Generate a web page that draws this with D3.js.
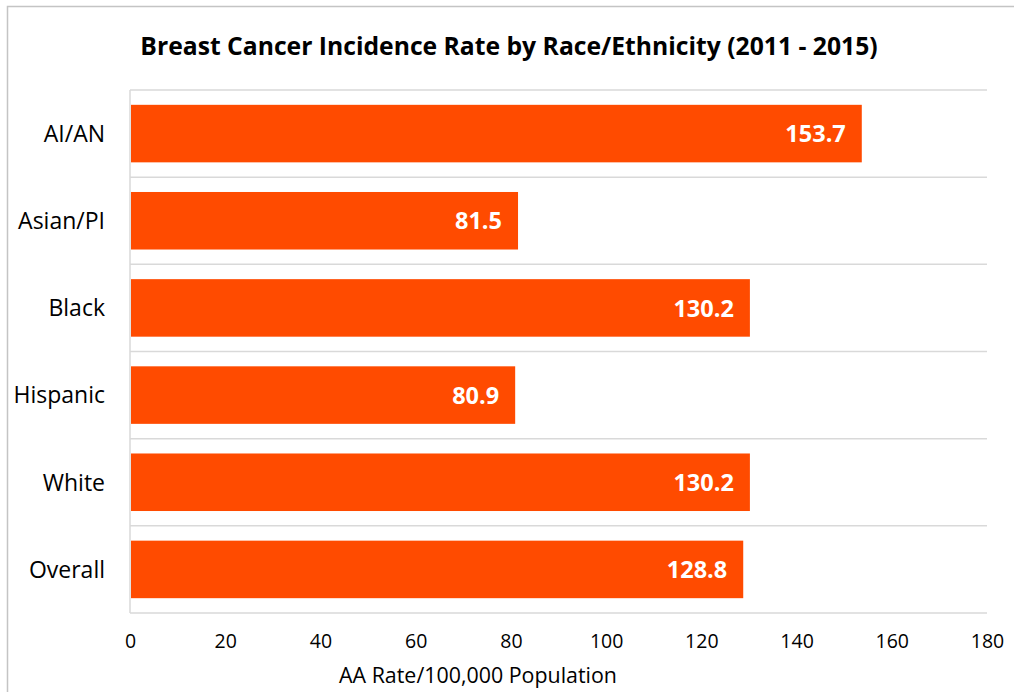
<!DOCTYPE html>
<html>
<head>
<meta charset="utf-8">
<script src="https://cdn.jsdelivr.net/npm/d3@7"></script>
<style>
  body { margin: 0; background: #fff; }
  svg { display: block; font-family: "Open Sans", sans-serif; }
</style>
</head>
<body>
<svg id="chart" width="1014" height="692"></svg>
<script>
// values
const categories = ['AI/AN', 'Asian/PI', 'Black', 'Hispanic', 'White', 'Overall'];
const rates = [153.7, 81.5, 130.2, 80.9, 130.2, 128.8];
const xTicks = [0, 20, 40, 60, 80, 100, 120, 140, 160, 180];

const chartTitle = 'Breast Cancer Incidence Rate by Race/Ethnicity (2011 - 2015)';
const xTitle = 'AA Rate/100,000 Population';

const svg = d3.select('#chart');
const plot = { left: 130, right: 987, top: 90, bottom: 613 };

// outer chart border
svg.append('rect')
    .attr('x', 7.5).attr('y', 6.5)
    .attr('width', 1020).attr('height', 700)
    .attr('fill', 'none').attr('stroke', '#c4c4c4').attr('stroke-width', 1.5);

const x = d3.scaleLinear().domain([0, 180]).range([plot.left, plot.right]);
const y = d3.scaleBand().domain(categories).range([plot.top, plot.bottom]).paddingInner(0.34).paddingOuter(0.17);

// horizontal gridlines at category boundaries
const step = y.step();
const bounds = d3.range(categories.length + 1).map(i => plot.top + i * step);
svg.append('g').selectAll('line')
    .data(bounds)
    .join('line')
    .attr('x1', plot.left).attr('x2', plot.right)
    .attr('y1', d => d).attr('y2', d => d)
    .attr('stroke', '#d9d9d9').attr('stroke-width', 1.5);

// category axis line
svg.append('line')
    .attr('x1', plot.left).attr('x2', plot.left)
    .attr('y1', plot.top).attr('y2', plot.bottom)
    .attr('stroke', '#d9d9d9').attr('stroke-width', 1.5);

const rows = categories.map((c, i) => ({ cat: c, val: rates[i] }));

svg.append('g').selectAll('rect')
    .data(rows)
    .join('rect')
    .attr('x', x(0) + 1)
    .attr('y', d => y(d.cat))
    .attr('width', d => x(d.val) - x(0) - 1)
    .attr('height', y.bandwidth())
    .attr('fill', '#ff4b00');

// value labels inside the bar ends
svg.append('g').selectAll('text')
    .data(rows)
    .join('text')
    .attr('x', d => x(d.val) - 16)
    .attr('y', d => y(d.cat) + y.bandwidth() / 2)
    .attr('dy', '0.37em')
    .attr('text-anchor', 'end')
    .attr('font-size', 23.5)
    .attr('font-weight', 700)
    .attr('fill', '#fff')
    .text(d => d.val.toFixed(1));

// category labels
svg.append('g').selectAll('text')
    .data(categories)
    .join('text')
    .attr('x', 105)
    .attr('y', d => y(d) + y.bandwidth() / 2)
    .attr('dy', '0.36em')
    .attr('text-anchor', 'end')
    .attr('font-size', 23)
    .attr('fill', '#000')
    .text(d => d);

// x axis tick labels, no tick marks
const xAxis = svg.append('g')
    .attr('transform', `translate(0,${plot.bottom})`)
    .call(d3.axisBottom(x).tickValues(xTicks).tickSize(0).tickPadding(0));
xAxis.select('.domain').remove();
xAxis.selectAll('text')
    .attr('dy', null)
    .attr('y', 35)
    .attr('font-family', '"Open Sans", sans-serif')
    .attr('font-size', 19.5)
    .attr('fill', '#000');

svg.append('text')
    .attr('x', 478).attr('y', 683)
    .attr('text-anchor', 'middle')
    .attr('font-size', 21.4)
    .attr('fill', '#000')
    .text(xTitle);

svg.append('text')
    .attr('x', 509).attr('y', 55)
    .attr('text-anchor', 'middle')
    .attr('font-size', 24.7)
    .attr('font-weight', 700)
    .attr('fill', '#000')
    .text(chartTitle);
</script>
</body>
</html>
